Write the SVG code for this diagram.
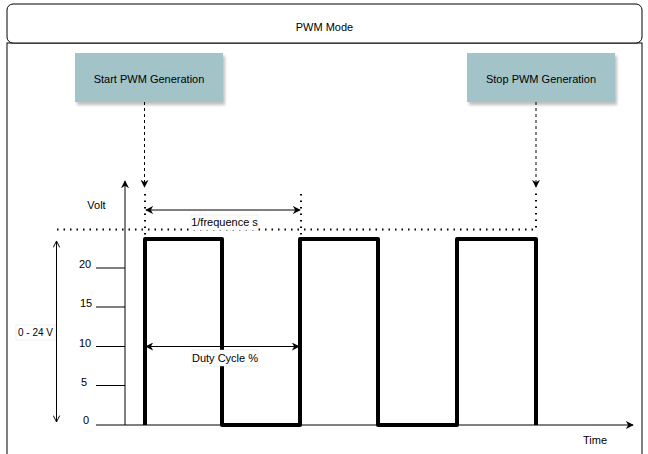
<svg xmlns="http://www.w3.org/2000/svg" width="648" height="454" viewBox="0 0 648 454">
<style>
text{font-family:"Liberation Sans",Arial,sans-serif;font-size:11px;fill:#000;dominant-baseline:central}
.thin{stroke:#000;stroke-width:1;fill:none}
.dash{stroke:#000;stroke-width:1;fill:none;stroke-dasharray:3 3}
.dot{stroke:#000;stroke-width:2;fill:none;stroke-dasharray:1.5 5;stroke-linecap:butt}
.pulse{stroke:#000;stroke-width:4;fill:none;stroke-linejoin:round}
.lbl{fill:#fff;stroke:#ddd;stroke-width:0.5}
</style>
<defs>
<marker id="ah" viewBox="0 0 10 10" refX="9" refY="5" markerWidth="8" markerHeight="8" orient="auto-start-reverse" markerUnits="userSpaceOnUse">
<path d="M0,0 L10,5 L0,10 L3,5 Z" fill="#000"/>
</marker>
<marker id="ov" viewBox="0 0 10 10" refX="9" refY="5" markerWidth="8" markerHeight="8" orient="auto-start-reverse" markerUnits="userSpaceOnUse">
<path d="M1,1 L9,5 L1,9" fill="none" stroke="#000" stroke-width="1.2"/>
</marker>
<filter id="sh" x="-10%" y="-10%" width="130%" height="140%">
<feDropShadow dx="2" dy="3" stdDeviation="1.5" flood-color="#000" flood-opacity="0.25"/>
</filter>
</defs>

<g id="frame">
<rect x="7" y="43" width="635" height="420" fill="#fff" stroke="#000" stroke-width="1"/>
<rect x="7" y="4" width="635" height="39" rx="6" ry="6" fill="#fff" stroke="#000" stroke-width="1"/>
<text x="324.5" y="27" text-anchor="middle">PWM Mode</text>
</g>

<g id="start-node">
<rect x="75" y="53" width="148" height="49" fill="#a2c4c9" filter="url(#sh)"/>
<text x="149" y="79" text-anchor="middle">Start PWM Generation</text>
</g>
<g id="stop-node">
<rect x="467" y="53" width="148" height="49" fill="#a2c4c9" filter="url(#sh)"/>
<text x="541" y="79" text-anchor="middle">Stop PWM Generation</text>
</g>

<g id="axes">
<line class="thin" x1="125" y1="425" x2="125" y2="181" marker-end="url(#ah)"/>
<line class="thin" x1="96" y1="425" x2="633" y2="425" marker-end="url(#ah)"/>
<line class="thin" x1="96" y1="268" x2="125" y2="268"/>
<line class="thin" x1="96" y1="307" x2="125" y2="307"/>
<line class="thin" x1="96" y1="346.5" x2="125" y2="346.5"/>
<line class="thin" x1="96" y1="385.5" x2="125" y2="385.5"/>
<text x="85" y="264" text-anchor="middle">20</text>
<text x="86" y="303" text-anchor="middle">15</text>
<text x="85" y="343" text-anchor="middle">10</text>
<text x="84" y="382" text-anchor="middle">5</text>
<text x="86" y="420" text-anchor="middle">0</text>
<text x="96.5" y="205" text-anchor="middle">Volt</text>
<text x="595" y="440" text-anchor="middle">Time</text>
</g>

<g id="waveform">
<polyline class="pulse" points="145,425 145,239 222,239 222,425 300,425 300,239 378,239 378,425 457,425 457,239 536,239 536,425"/>
</g>

<g id="connectors">
<line class="dash" x1="144.5" y1="102" x2="144.5" y2="187" marker-end="url(#ah)"/>
<line class="dash" x1="536" y1="102" x2="536" y2="187" marker-end="url(#ah)"/>
<polyline class="dot" points="57,229.5 536,229.5 536,190"/>
<line class="dot" x1="145" y1="194" x2="145" y2="238"/>
<line class="dot" x1="301" y1="194" x2="301" y2="238"/>
<line class="thin" x1="146" y1="210" x2="300" y2="210" marker-start="url(#ah)" marker-end="url(#ah)"/>
<line class="thin" x1="146" y1="346.5" x2="299" y2="346.5" marker-start="url(#ah)" marker-end="url(#ah)"/>
<line class="thin" x1="56.5" y1="241" x2="56.5" y2="422" marker-start="url(#ov)" marker-end="url(#ov)"/>
</g>

<g id="labels">
<rect class="lbl" x="191" y="215" width="67" height="15"/>
<text x="224.5" y="222" text-anchor="middle">1/frequence s</text>
<rect class="lbl" x="192" y="350" width="66" height="16"/>
<text x="225" y="358" text-anchor="middle">Duty Cycle %</text>
<rect class="lbl" x="16" y="325" width="39" height="15"/>
<text x="35.5" y="332.5" text-anchor="middle" style="font-size:10px">0 - 24 V</text>
</g>
</svg>
